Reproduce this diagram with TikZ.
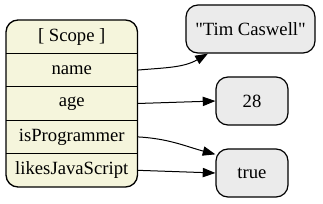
\documentclass[tikz,border=0pt]{standalone}
\usepackage{fontspec}
\setmainfont{Liberation Serif}[Ligatures=TeXOff]
\usetikzlibrary{arrows.meta,positioning,backgrounds}
\definecolor{recfill}{HTML}{F5F5DC}
\definecolor{valfill}{HTML}{EBEBEB}

\begin{document}
\begin{tikzpicture}[x=0.75pt,y=0.75pt,
    field/.style={minimum width=98.6pt,minimum height=25.05pt,inner sep=0pt,outer sep=0pt,font=\fontsize{14}{16}\selectfont},
    valbox/.style={draw,line width=0.9pt,fill=valfill,rounded corners=9pt,minimum height=36pt,inner sep=0pt,font=\fontsize{14}{16}\selectfont},
    ptr/.style={-{Triangle[length=9.5pt,width=7pt]},line width=0.75pt}]
    \useasboundingbox (0,0) rectangle (323,203);

    % Scope record (left)
    \node[field] (rec) at (71.75,166.3) {[ Scope ]};
    \node[field,below=0pt of rec] (name) {name};
    \node[field,below=0pt of name] (age) {age};
    \node[field,below=0pt of age] (isprog) {isProgrammer};
    \node[field,below=0pt of isprog] (likesjs) {likesJavaScript};
    \begin{scope}[on background layer]
        \draw[line width=1pt,fill=recfill,rounded corners=9pt] (rec.north west) rectangle (likesjs.south east);
    \end{scope}
    \foreach \f in {name,age,isprog,likesjs}
        \draw[line width=1pt] (\f.north west) -- (\f.north east);

    % Values (right)
    \node[valbox,minimum width=96.75pt] (tim) at (250.5,174) {"Tim Caswell"};
    \node[valbox,minimum width=54pt] (v28) at (252,102) {28};
    \node[valbox,minimum width=54pt] (vtrue) at (252,30) {true};

    % Pointers
    \draw[ptr] (name.east) to[out=5,in=210] (tim);
    \draw[ptr] (age.east) -- (v28.west);
    \draw[ptr] (isprog.east) to[out=-3,in=165] (vtrue.153);
    \draw[ptr] (likesjs.east) -- (vtrue.west);
\end{tikzpicture}
\end{document}
